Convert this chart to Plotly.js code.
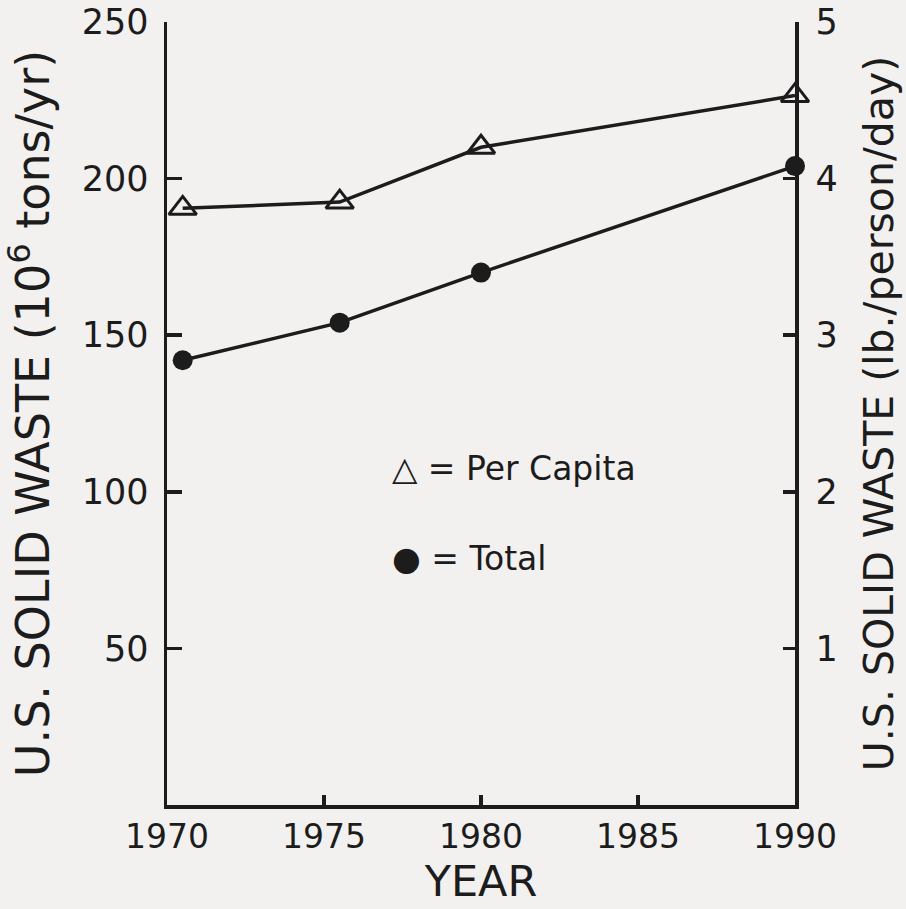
<!DOCTYPE html>
<html>
<head>
<meta charset="utf-8">
<script src="https://cdn.plot.ly/plotly-3.0.1.min.js"></script>
<style>html,body{margin:0;padding:0;background:#f3f1f0;}</style>
</head>
<body>
<div id="chart" style="width:906px;height:909px;"></div>
<script>
// Data
const years = [1970.5, 1975.5, 1980, 1990];
const totalWaste = [142, 154, 170, 204];          // 10^6 tons/yr (left axis)
const perCapita = [3.81, 3.85, 4.2, 4.53];        // lb/person/day (right axis)
const xTicks = [1970, 1975, 1980, 1985, 1990];
const leftTicks = [50, 100, 150, 200, 250];
const rightTicks = [1, 2, 3, 4, 5];

const ink = '#1c1c1c';
const font = 'DejaVu Sans, sans-serif';

const traces = [
  {
    x: years, y: totalWaste, yaxis: 'y', type: 'scatter', mode: 'lines+markers',
    line: {color: ink, width: 3.5},
    marker: {symbol: 'circle', size: 20, color: ink},
    cliponaxis: false, showlegend: false, name: 'Total'
  },
  {
    x: years, y: perCapita, yaxis: 'y2', type: 'scatter', mode: 'lines+markers',
    line: {color: ink, width: 3.5},
    marker: {symbol: 'triangle-up-open', size: 24, color: ink, line: {width: 3, color: ink}},
    cliponaxis: false, showlegend: false, name: 'Per Capita'
  }
];

const layout = {
  width: 906, height: 909,
  paper_bgcolor: '#f3f1f0', plot_bgcolor: 'rgba(0,0,0,0)',
  margin: {l: 167, r: 111, t: 22, b: 104},
  font: {family: font, color: ink},
  showlegend: false,
  xaxis: {
    range: [1970, 1990], tickvals: xTicks, ticktext: xTicks.map(String),
    ticks: 'inside', ticklen: 10, tickwidth: 3.5, tickcolor: ink,
    showline: true, linewidth: 3.5, linecolor: ink, showgrid: false, zeroline: false,
    tickfont: {size: 33, family: font, color: ink}, ticklabelstandoff: 0,
    title: {text: 'YEAR', font: {size: 43, family: font, color: ink}, standoff: 2},
    automargin: false
  },
  yaxis: {
    range: [0, 250], tickvals: leftTicks, ticktext: leftTicks.map(String),
    ticks: 'inside', ticklen: 15, tickwidth: 3.5, tickcolor: ink,
    showline: true, linewidth: 3.5, linecolor: ink, showgrid: false, zeroline: false,
    tickfont: {size: 35, family: font, color: ink}, ticklabelstandoff: 8,
    title: {text: 'U.S. SOLID WASTE (10<sup>6</sup> tons/yr)', font: {size: 46, family: font, color: ink}, standoff: 18},
    automargin: false
  },
  yaxis2: {
    range: [0, 5], tickvals: rightTicks, ticktext: rightTicks.map(String),
    overlaying: 'y', side: 'right',
    ticks: 'inside', ticklen: 12, tickwidth: 3.5, tickcolor: ink,
    showline: true, linewidth: 3.5, linecolor: ink, showgrid: false, zeroline: false,
    tickfont: {size: 35, family: font, color: ink}, ticklabelstandoff: 10,
    title: {text: 'U.S. SOLID WASTE (lb./person/day)', font: {size: 41, family: font, color: ink}, standoff: 28},
    automargin: false
  },
  annotations: [
    {xref: 'paper', yref: 'paper', x: 0.355, y: 0.43, xanchor: 'left', yanchor: 'middle',
     text: '△ = Per Capita', showarrow: false, font: {size: 33, family: font, color: ink}},
    {xref: 'paper', yref: 'paper', x: 0.355, y: 0.315, xanchor: 'left', yanchor: 'middle',
     text: '● = Total', showarrow: false, font: {size: 33, family: font, color: ink}}
  ]
};

Plotly.newPlot('chart', traces, layout, {displayModeBar: false, staticPlot: true});
</script>
</body>
</html>
